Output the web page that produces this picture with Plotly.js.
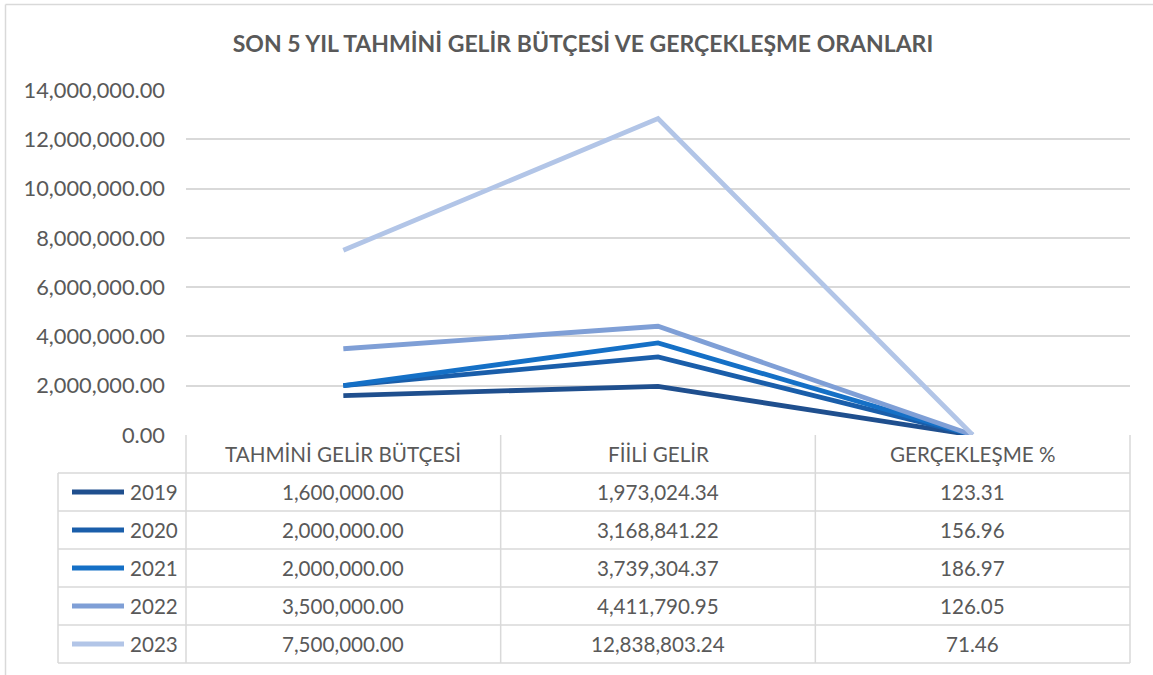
<!DOCTYPE html>
<html>
<head>
<meta charset="utf-8">
<script src="https://cdn.plot.ly/plotly-3.0.1.min.js"></script>
<style>html,body{margin:0;padding:0;background:#fff;}#chart{width:1153px;height:675px;}</style>
</head>
<body>
<div id="chart"></div>
<script>
const categories = ['TAHMİNİ GELİR BÜTÇESİ', 'FİİLİ GELİR', 'GERÇEKLEŞME %'];
const years = ['2019', '2020', '2021', '2022', '2023'];
const budget = [1600000.00, 2000000.00, 2000000.00, 3500000.00, 7500000.00];
const actual = [1973024.34, 3168841.22, 3739304.37, 4411790.95, 12838803.24];
const ratio = [123.31, 156.96, 186.97, 126.05, 71.46];
const colors = ['#1F4F8E', '#1A5EAA', '#1570C6', '#7F9FD6', '#B2C5E7'];
const title = 'SON 5 YIL TAHMİNİ GELİR BÜTÇESİ VE GERÇEKLEŞME ORANLARI';

const W = 1153, H = 675;
const L = 186, R = 1130, T = 90, B = 435;
const px = x => (x - L) / (R - L);
const py = y => (B - y) / (B - T);
const fmt = v => v.toLocaleString('en-US', {minimumFractionDigits: 2, maximumFractionDigits: 2});
const FONT = 'Lato, "Open Sans", sans-serif';
const TXT = '#595959';
const GRID = '#D9D9D9';

const traces = years.map((yr, i) => ({
  type: 'scatter', mode: 'lines', name: yr,
  x: categories, y: [budget[i], actual[i], ratio[i]],
  line: {color: colors[i], width: 4.8},
  hoverinfo: 'x+y+name', cliponaxis: false
}));

const rowH = 38, headTop = B, headBot = 473, legLeft = 58;
const shapes = [];
const annotations = [];
const lineShape = (x0, y0, x1, y1) => shapes.push({type: 'line', xref: 'paper', yref: 'paper',
  x0: px(x0), y0: py(y0), x1: px(x1), y1: py(y1), line: {color: GRID, width: 1.5}, layer: 'below'});

// outer border
lineShape(5.5, 4.5, 1160, 4.5);
lineShape(5.5, 4.5, 5.5, 690);

const tableBottom = headBot + rowH * years.length;
const colX = [L, L + (R - L) / 3, L + 2 * (R - L) / 3, R];
colX.forEach(x => lineShape(x, headTop, x, tableBottom));
lineShape(legLeft, headBot, legLeft, tableBottom);
for (let r = 0; r <= years.length; r++) {
  const y = headBot + r * rowH;
  lineShape(legLeft, y, R, y);
}
const TS = 20.6;
categories.forEach((c, j) => annotations.push({xref: 'x', yref: 'paper', x: j, y: py((headTop + headBot) / 2),
  text: c, showarrow: false, font: {family: FONT, size: TS, color: TXT}, xanchor: 'center', yanchor: 'middle'}));
years.forEach((yr, i) => {
  const cy = headBot + rowH * i + rowH / 2;
  shapes.push({type: 'line', xref: 'paper', yref: 'paper', x0: px(72), x1: px(124), y0: py(cy), y1: py(cy),
    line: {color: colors[i], width: 4.8}});
  annotations.push({xref: 'paper', yref: 'paper', x: px(128), y: py(cy), text: yr, showarrow: false,
    font: {family: FONT, size: TS, color: TXT}, xanchor: 'left', yanchor: 'middle'});
  [budget[i], actual[i], ratio[i]].forEach((v, j) => annotations.push({xref: 'x', yref: 'paper', x: j, y: py(cy),
    text: fmt(v), showarrow: false, font: {family: FONT, size: TS, color: TXT}, xanchor: 'center', yanchor: 'middle'}));
});

const layout = {
  width: W, height: H,
  margin: {l: L, r: W - R, t: T, b: H - B, pad: 0},
  paper_bgcolor: '#FFFFFF', plot_bgcolor: '#FFFFFF',
  showlegend: false,
  title: {text: '<b>' + title + '</b>', x: 583 / W, xref: 'container', xanchor: 'center',
    y: 1 - 44 / H, yref: 'container', yanchor: 'middle', font: {family: FONT, size: 23, color: TXT}},
  xaxis: {type: 'category', range: [-0.5, 2.5], showticklabels: false, showgrid: false, zeroline: false,
    showline: false, ticks: '', fixedrange: true},
  yaxis: {range: [0, 14000000], dtick: 2000000, tick0: 0, tickformat: ',.2f', showgrid: true, gridcolor: GRID,
    gridwidth: 1.5, zeroline: false, showline: false, ticks: '', ticklabelstandoff: 20,
    tickfont: {family: FONT, size: 21.8, color: TXT}, fixedrange: true},
  shapes: shapes, annotations: annotations
};

Plotly.newPlot('chart', traces, layout, {displayModeBar: false});
</script>
</body>
</html>
